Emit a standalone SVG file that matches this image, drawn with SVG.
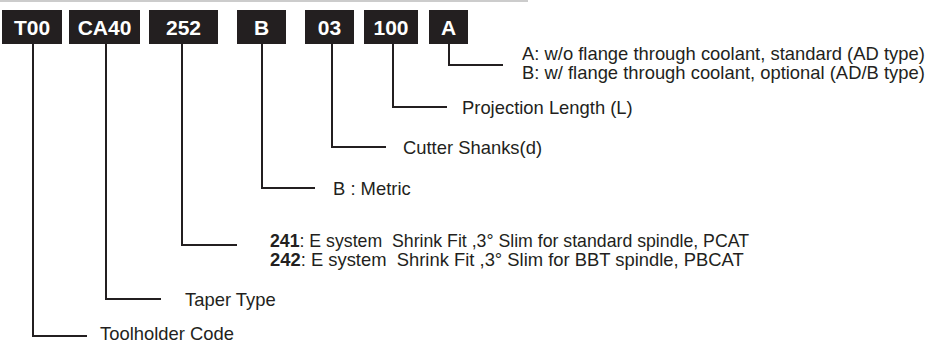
<svg xmlns="http://www.w3.org/2000/svg" width="932" height="344" viewBox="0 0 932 344">
<style>
.box{fill:#231f20}
.code{font-family:"Liberation Sans",Arial,sans-serif;font-weight:bold;font-size:21px;fill:#fff;text-anchor:middle}
.lbl{font-family:"Liberation Sans",Arial,sans-serif;font-size:18.4px;fill:#231f20;white-space:pre}
.b{font-weight:bold}
.conn path{fill:none;stroke:#231f20;stroke-width:2}
</style>
<rect x="0" y="0" width="932" height="344" fill="#fff"/>
<line x1="0" y1="1" x2="528" y2="1" stroke="#cccccc" stroke-width="2"/>
<g id="n-t00"><rect class="box" x="2" y="10" width="60" height="34"/><text class="code" x="32" y="34.5">T00</text></g>
<g id="n-ca40"><rect class="box" x="69" y="10" width="71" height="34"/><text class="code" x="104.5" y="34.5">CA40</text></g>
<g id="n-252"><rect class="box" x="149" y="10" width="69" height="34"/><text class="code" x="183.5" y="34.5">252</text></g>
<g id="n-b"><rect class="box" x="237" y="10" width="49" height="34"/><text class="code" x="261.5" y="34.5">B</text></g>
<g id="n-03"><rect class="box" x="305" y="10" width="49" height="34"/><text class="code" x="329.5" y="34.5">03</text></g>
<g id="n-100"><rect class="box" x="364" y="10" width="54" height="34"/><text class="code" x="391" y="34.5">100</text></g>
<g id="n-a"><rect class="box" x="429" y="10" width="39" height="34"/><text class="code" x="448.5" y="34.5">A</text></g>
<g id="connectors" class="conn">
<path d="M449,44V65H503"/>
<path d="M393,44V107H447"/>
<path d="M332,44V147H386"/>
<path d="M262,44V188H315"/>
<path d="M182,44V245H237"/>
<path d="M106,44V299H161"/>
<path d="M33,44V336H87"/>
</g>
<g id="l-a"><text class="lbl" x="522" y="60">A: w/o flange through coolant, standard (AD type)</text><text class="lbl" x="522" y="79">B: w/ flange through coolant, optional (AD/B type)</text></g>
<g id="l-100"><text class="lbl" x="462" y="114">Projection Length (L)</text></g>
<g id="l-03"><text class="lbl" x="403" y="154">Cutter Shanks(d)</text></g>
<g id="l-b"><text class="lbl" x="333" y="194.5">B : Metric</text></g>
<g id="l-252"><text class="lbl" x="270" y="247" textLength="479" lengthAdjust="spacingAndGlyphs"><tspan class="b">241</tspan>: E system  Shrink Fit ,3° Slim for standard spindle, PCAT</text><text class="lbl" x="270" y="266"><tspan class="b">242</tspan>: E system  Shrink Fit ,3° Slim for BBT spindle, PBCAT</text></g>
<g id="l-ca40"><text class="lbl" x="185" y="305.5">Taper Type</text></g>
<g id="l-t00"><text class="lbl" x="100" y="339.5">Toolholder Code</text></g>
</svg>
